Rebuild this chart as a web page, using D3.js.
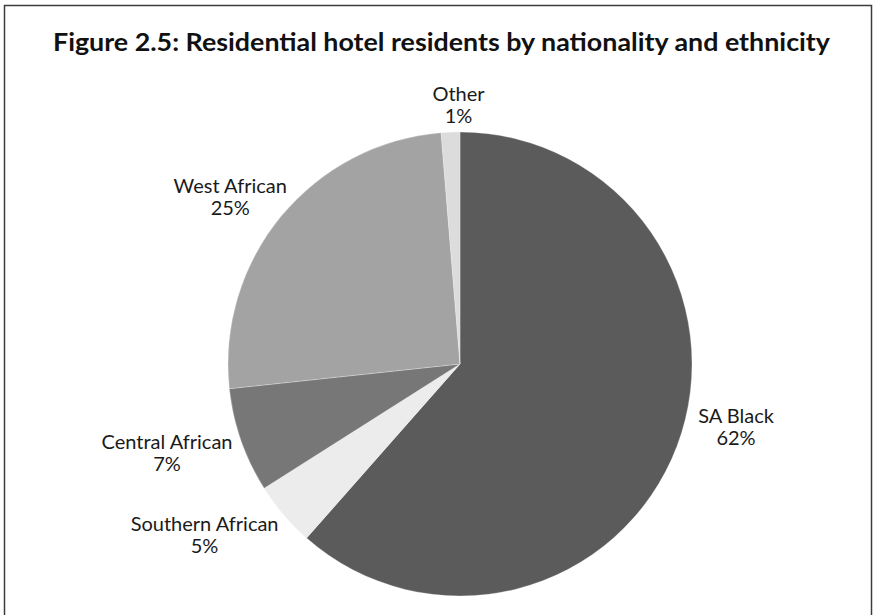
<!DOCTYPE html>
<html>
<head>
<meta charset="utf-8">
<script src="https://cdn.jsdelivr.net/npm/d3@7"></script>
<style>
  html, body { margin: 0; padding: 0; background: #fff; }
  svg { display: block; }
</style>
</head>
<body>
<div id="chart"></div>
<script>
// ------------------------------------------------------------------
// Data
// ------------------------------------------------------------------
var categories = ["SA Black", "Southern African", "Central African", "West African", "Other"];
var values     = [61.5, 4.5, 7.3, 25.4, 1.3];
var pctLabels  = ["62%", "5%", "7%", "25%", "1%"];
var colours    = ["#5b5b5b", "#ececec", "#777777", "#a3a3a3", "#dcdcdc"];

// label nudges away from the outer edge of each slice (layout only)
var labelNudge = [[59, -19], [-79, 20], [-74, 12], [-51, -19], [8, -27]];

var width = 874, height = 615;
var cx = 460, cy = 364, radius = 232;

var svg = d3.select("#chart").append("svg")
    .attr("width", width)
    .attr("height", height);

// frame
svg.append("rect")
    .attr("x", 4.5).attr("y", 5.5)
    .attr("width", 867).attr("height", 620)
    .attr("fill", "none")
    .attr("stroke", "#3c3c3c")
    .attr("stroke-width", 1.5);

// title
svg.append("text")
    .attr("x", 53).attr("y", 51)
    .attr("textLength", 777)
    .attr("lengthAdjust", "spacingAndGlyphs")
    .style("font-family", "Lato, 'Open Sans', sans-serif")
    .style("font-weight", "bold")
    .style("font-size", "24px")
    .attr("fill", "#111")
    .text("Figure 2.5: Residential hotel residents by nationality and ethnicity");

var pie = d3.pie().sort(null).value(function(d) { return d; });
var arcs = pie(values);

var arc = d3.arc().innerRadius(0).outerRadius(radius);

var g = svg.append("g").attr("transform", "translate(" + cx + "," + cy + ")");

g.selectAll("path.slice")
    .data(arcs)
    .enter().append("path")
    .attr("class", "slice")
    .attr("d", arc)
    .attr("fill", function(d, i) { return colours[i]; })
    .attr("stroke", "#f4f4f4")
    .attr("stroke-width", 0.3);

// labels: two lines, centred
var labels = g.selectAll("text.lbl")
    .data(arcs)
    .enter().append("text")
    .attr("class", "lbl")
    .attr("text-anchor", "middle")
    .style("font-family", "Lato, 'Open Sans', sans-serif")
    .style("font-size", "20px")
    .attr("fill", "#1a1a1a")
    .attr("transform", function(d, i) {
        var a = (d.startAngle + d.endAngle) / 2;
        var x = Math.sin(a) * radius + labelNudge[i][0];
        var y = -Math.cos(a) * radius + labelNudge[i][1];
        return "translate(" + x + "," + y + ")";
    });

labels.append("tspan")
    .attr("x", 0).attr("y", -4)
    .text(function(d, i) { return categories[i]; });

labels.append("tspan")
    .attr("x", 0).attr("y", 18)
    .text(function(d, i) { return pctLabels[i]; });
</script>
</body>
</html>
